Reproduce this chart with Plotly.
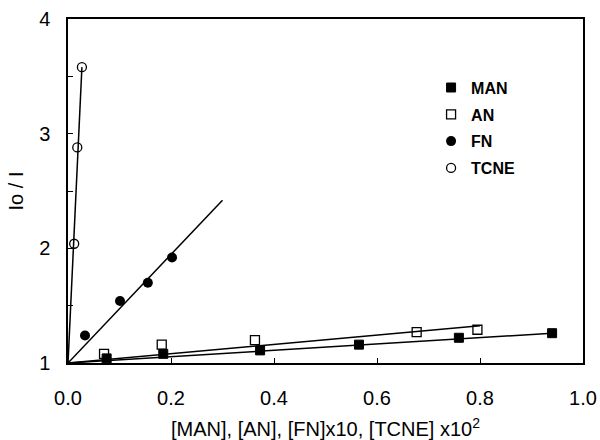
import plotly.graph_objects as go

# Data
man_x = [0.075, 0.185, 0.373, 0.565, 0.759, 0.94]
man_y = [1.04, 1.08, 1.11, 1.16, 1.22, 1.26]
an_x = [0.07, 0.182, 0.363, 0.677, 0.795]
an_y = [1.08, 1.16, 1.20, 1.27, 1.29]
fn_x = [0.033, 0.101, 0.155, 0.202]
fn_y = [1.24, 1.54, 1.70, 1.92]
tcne_x = [0.012, 0.018, 0.027]
tcne_y = [2.04, 2.88, 3.58]

# fitted lines (start, end)
man_line_x = [0.0, 0.94]
man_line_y = [1.0, 1.26]
an_line_x = [0.0, 0.80]
an_line_y = [1.0, 1.325]
fn_line_x = [0.0, 0.30]
fn_line_y = [1.0, 2.42]
tcne_line_x = [0.0, 0.027]
tcne_line_y = [1.0, 3.58]

x_ticks = [0.0, 0.2, 0.4, 0.6, 0.8, 1.0]
x_tick_labels = ["0.0", "0.2", "0.4", "0.6", "0.8", "1.0"]
y_ticks = [1, 2, 3, 4]
y_tick_labels = ["1", "2", "3", "4"]

fig = go.Figure()
line_style = dict(color="black", width=1.5)
for lx, ly in [(man_line_x, man_line_y), (an_line_x, an_line_y),
               (fn_line_x, fn_line_y), (tcne_line_x, tcne_line_y)]:
    fig.add_trace(go.Scatter(x=lx, y=ly, mode="lines", line=line_style,
                             showlegend=False, hoverinfo="skip"))

fig.add_trace(go.Scatter(x=man_x, y=man_y, mode="markers", name="MAN", legendgroup="a",
                         marker=dict(symbol="square", size=9, color="black",
                                     line=dict(color="black", width=1))))
fig.add_trace(go.Scatter(x=an_x, y=an_y, mode="markers", name="AN", legendgroup="b",
                         marker=dict(symbol="square-open", size=9, color="black",
                                     line=dict(color="black", width=1.3))))
fig.add_trace(go.Scatter(x=fn_x, y=fn_y, mode="markers", name="FN", legendgroup="c",
                         marker=dict(symbol="circle", size=10, color="black")))
fig.add_trace(go.Scatter(x=tcne_x, y=tcne_y, mode="markers", name="TCNE", legendgroup="d",
                         marker=dict(symbol="circle-open", size=9, color="black",
                                     line=dict(color="black", width=1.3))))

font_family = "Arial, Liberation Sans, sans-serif"
fig.update_layout(
    width=600, height=440,
    margin=dict(l=68, r=17, t=19, b=77),
    paper_bgcolor="white", plot_bgcolor="white",
    font=dict(family=font_family, color="black", size=20),
    legend=dict(x=0.705, y=0.85, xanchor="left", yanchor="top",
                font=dict(family=font_family, size=16, color="black", weight="bold"),
                bgcolor="rgba(0,0,0,0)", tracegroupgap=3, itemwidth=30,
                itemsizing="trace"),
    xaxis=dict(range=[0, 1.0], tickvals=x_ticks, ticktext=x_tick_labels,
               ticks="inside", ticklen=5, tickcolor="black", showgrid=False,
               zeroline=False, showline=True, linecolor="black", linewidth=1.5,
               mirror=True, tickfont=dict(size=20), ticklabelstandoff=16,
               automargin=False,
               title=dict(text="[MAN], [AN], [FN]x10, [TCNE] x10<sup>2</sup>",
                          font=dict(size=20), standoff=16)),
    yaxis=dict(range=[1, 4], tickvals=y_ticks, ticktext=y_tick_labels,
               ticks="inside", ticklen=5, tickcolor="black", showgrid=False,
               zeroline=False, showline=True, linecolor="black", linewidth=1.5,
               mirror=True, tickfont=dict(size=20), ticklabelstandoff=12,
               automargin=False,
               minor=dict(dtick=0.5, ticks="inside", ticklen=5, tickcolor="black"),
               title=dict(text="Io / I", font=dict(size=20), standoff=10)),
)

fig.write_html("out.html")
